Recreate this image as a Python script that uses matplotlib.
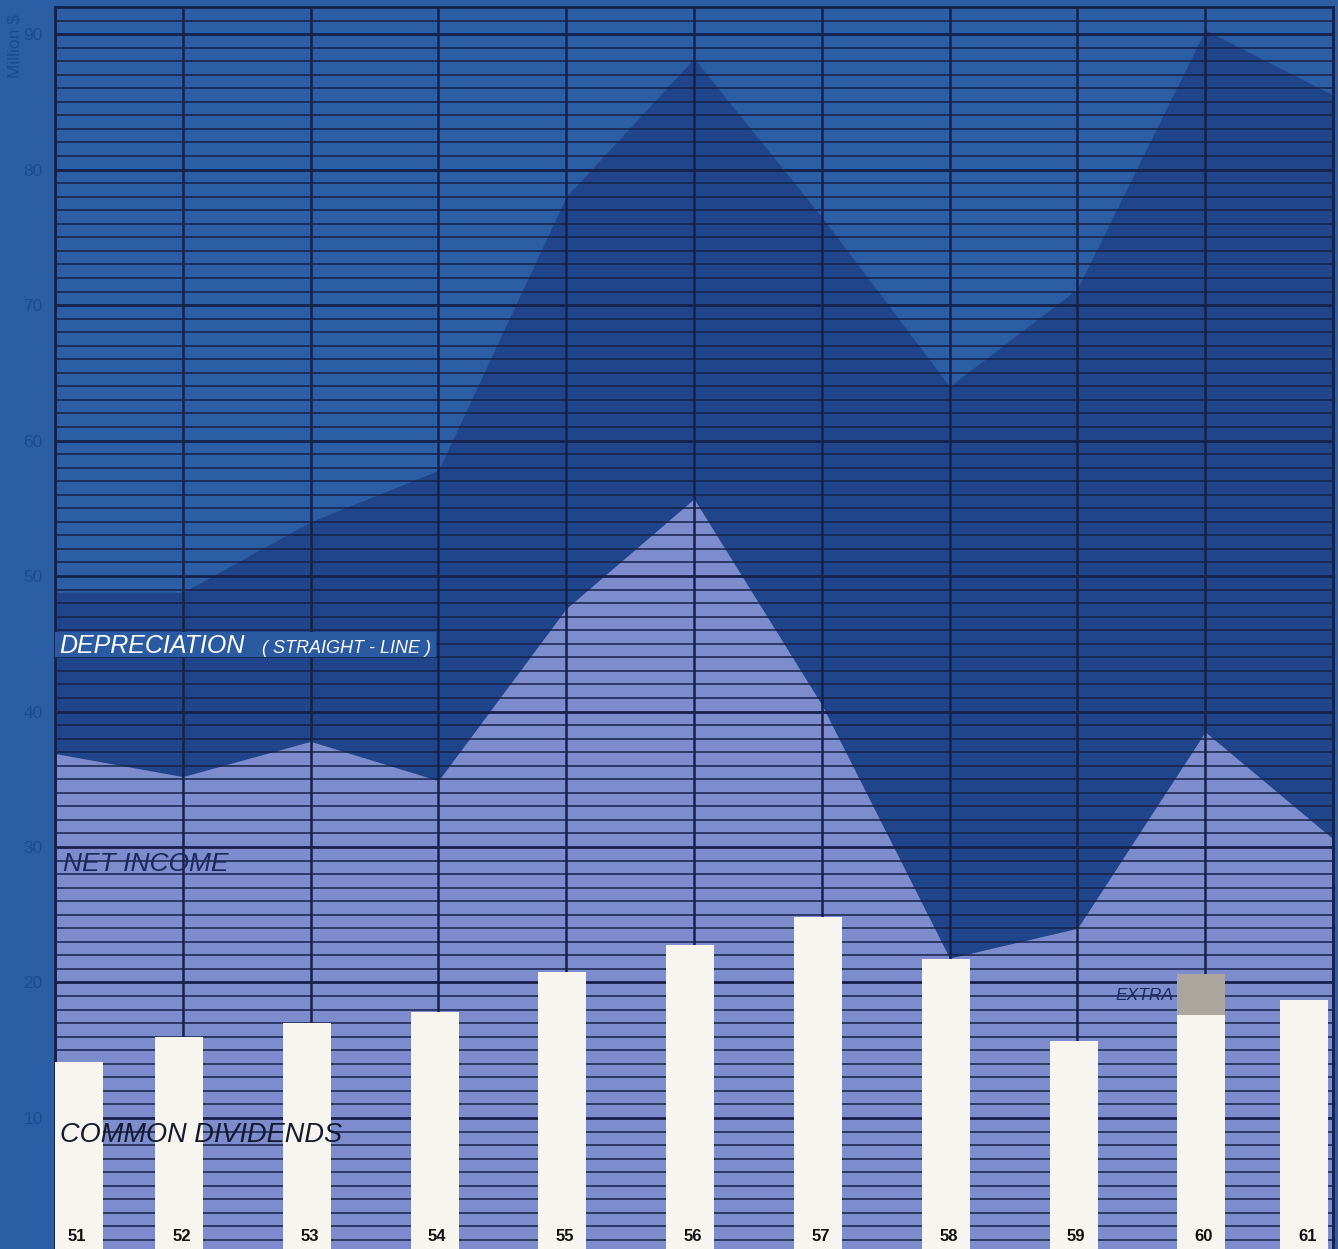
import matplotlib.pyplot as plt
import numpy as np
from matplotlib.patches import Rectangle

# years (19xx)
years = np.array([51, 52, 53, 54, 55, 56, 57, 58, 59, 60, 61])

# million $
net_income = [36.9, 35.2, 37.8, 34.9, 47.6, 55.7, 40.5, 21.8, 24.0, 38.5, 30.6]
depreciation = [11.9, 13.6, 16.2, 22.9, 30.4, 32.5, 36.0, 42.2, 47.2, 51.8, 54.9]
common_dividends = [14.1, 16.0, 17.0, 17.8, 20.8, 22.8, 24.8, 21.7, 15.7, 17.6, 18.7]
extra_dividends = [0, 0, 0, 0, 0, 0, 0, 0, 0, 3.0, 0]

year_labels = [str(y) for y in years]
y_ticks = [10, 20, 30, 40, 50, 60, 70, 80, 90]

bg = "#2c5ea6"
dark = "#21458a"
light = "#7d8ccd"
grid_col = "#16224a"
label_col = "#1d4c8e"

plt.rcParams["font.family"] = ["Liberation Sans", "DejaVu Sans"]

fig = plt.figure(figsize=(13.38, 12.49), dpi=100, facecolor=bg)
ax = fig.add_axes([55 / 1338, 0, 1278 / 1338, 1242 / 1249])
ax.set_facecolor(bg)

total = np.array(net_income) + np.array(depreciation)
ax.fill_between(years, 0, total, color=dark, lw=0, zorder=1)
ax.fill_between(years, 0, net_income, color=light, lw=0, zorder=1.1)

# ruled grid: every million, heavier every ten
ax.set_xlim(51, 61)
ax.set_ylim(0.33, 92)
ax.set_xticks(years)
ax.set_yticks(y_ticks)
ax.set_yticks(np.arange(1, 92), minor=True)
ax.grid(which="major", axis="y", color=grid_col, lw=2.0)
ax.grid(which="minor", axis="y", color=grid_col, lw=1.1)
ax.grid(which="major", axis="x", color=grid_col, lw=1.8)
ax.tick_params(which="both", length=0)
ax.tick_params(axis="x", labelbottom=False)
ax.tick_params(axis="y", pad=9, labelsize=12.5, labelcolor=label_col)

for side in ["left", "right", "top"]:
    ax.spines[side].set_color(grid_col)
    ax.spines[side].set_linewidth(2.0)
ax.spines["bottom"].set_visible(False)

# dividend bars, pushed inside the frame at both ends
bar_w = 0.376
lefts = np.clip(years - bar_w / 2 - 0.03, 51, 61 - 0.04 - bar_w)
ax.bar(lefts, common_dividends, width=bar_w, align="edge", color="#f7f5ee", lw=0, zorder=3)
ax.bar(lefts, extra_dividends, width=bar_w, bottom=common_dividends, align="edge",
       color="#aaa59d", lw=0, zorder=3)

label_x = np.clip(years - 0.01, 51.17, 60.8)
for x, lab in zip(label_x, year_labels):
    ax.text(x, 0.95, lab, ha="center", va="baseline", fontsize=12,
            fontweight="bold", color="#111111", zorder=4)

# series labels
ax.add_patch(Rectangle((50.98, 44.0), 3.0, 1.9, color="#2a5aa2", lw=0, zorder=3))
ax.text(51.03, 44.3, "DEPRECIATION", fontsize=18, style="italic", color="white", zorder=4)
ax.text(52.62, 44.3, "( STRAIGHT - LINE )", fontsize=13, style="italic", color="white", zorder=4)
ax.text(51.06, 28.2, "NET INCOME", fontsize=19, style="italic", color="#1a2a5c", zorder=4)
ax.text(51.04, 8.2, "COMMON DIVIDENDS", fontsize=19.5, style="italic", color="#141a30", zorder=4)
ax.text(59.75, 18.7, "EXTRA", fontsize=12.5, style="italic", color="#1a2a5c", ha="right", zorder=4)

fig.text(15 / 1338, 1 - 46 / 1249, "Million $", rotation=90, ha="center", va="center",
         fontsize=12.5, color=label_col)

fig.savefig("out.png", dpi=100, facecolor=bg)
